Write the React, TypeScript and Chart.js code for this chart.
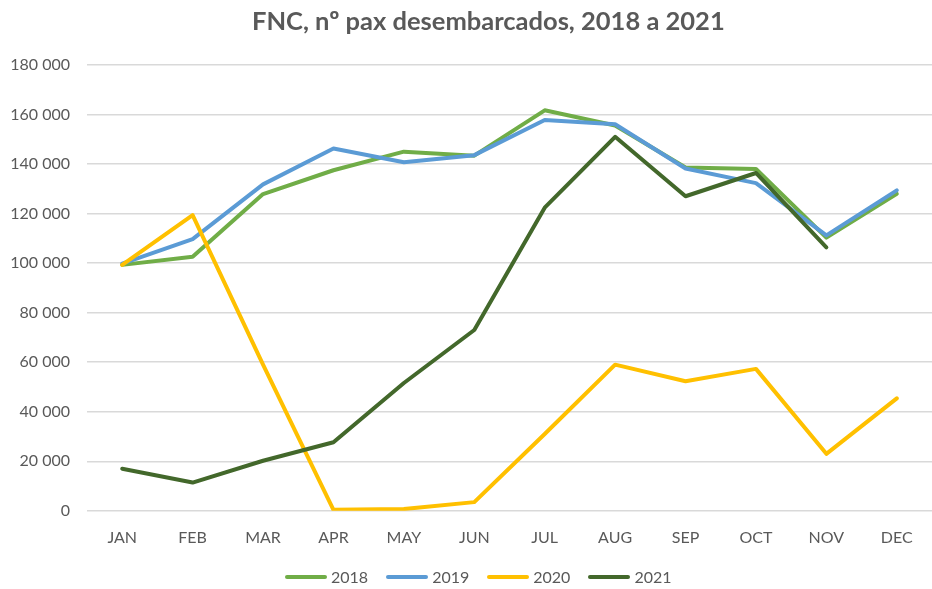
import React, { useEffect, useRef } from "react";
import { Chart, registerables } from "chart.js";

Chart.register(...registerables);

const months = ["JAN", "FEB", "MAR", "APR", "MAY", "JUN", "JUL", "AUG", "SEP", "OCT", "NOV", "DEC"];
const pax2018 = [99300, 102600, 127900, 137500, 145000, 143400, 161700, 155600, 138600, 138000, 110300, 128000];
const pax2019 = [99800, 109700, 131800, 146300, 140700, 143600, 157800, 156100, 138200, 132300, 111200, 129400];
const pax2020 = [99300, 119400, 59000, 400, 700, 3500, 31000, 59000, 52300, 57300, 23000, 45400];
const pax2021 = [17000, 11400, 20200, 27700, 51600, 73000, 122400, 151000, 127000, 136400, 106400, null];
const seriesNames = ["2018", "2019", "2020", "2021"];
const seriesColors = ["#70AD47", "#5B9BD5", "#FFC000", "#43682B"];
const titleText = "FNC, nº pax desembarcados, 2018 a 2021";

const fmt = (v: number) => String(v).replace(/\B(?=(\d{3})+(?!\d))/g, " ");

export default function App() {
  const ref = useRef<HTMLCanvasElement | null>(null);
  useEffect(() => {
    if (!ref.current) return;
    const all = [pax2018, pax2019, pax2020, pax2021];
    const chart = new Chart(ref.current, {
      type: "line",
      data: {
        labels: months,
        datasets: all.map((d, i) => ({
          label: seriesNames[i],
          data: d,
          borderColor: seriesColors[i],
          backgroundColor: seriesColors[i],
          borderWidth: 4,
          pointRadius: 0,
          pointHoverRadius: 0,
          tension: 0,
          fill: false,
          borderJoinStyle: "round" as const,
          borderCapStyle: "round" as const,
          order: 3 - i,
        })),
      },
      options: {
        responsive: false,
        animation: false,
        layout: { padding: { left: 0, right: 0, top: 65, bottom: 25 } },
        plugins: {
          legend: { display: false },
          tooltip: { enabled: false },
          title: { display: false },
        },
        scales: {
          x: {
            offset: true,
            grid: { display: false, drawTicks: false },
            border: { display: false },
            ticks: {
              color: "#595959",
              font: { family: "Lato", size: 16 },
              padding: 17,
              maxRotation: 0,
            },
          },
          y: {
            min: 0,
            max: 180000,
            afterFit: (scale: any) => {
              scale.width = 87;
            },
            grid: { color: "#D9D9D9", lineWidth: 1.5, drawTicks: false },
            border: { display: false },
            ticks: {
              stepSize: 20000,
              color: "#595959",
              font: { family: "Lato", size: 16 },
              padding: 17,
              callback: (v: any) => fmt(Number(v)),
            },
          },
        },
      },
    });
    return () => chart.destroy();
  }, []);

  return (
    <div style={{ position: "fixed", left: 0, top: 0, width: 932, height: 589, background: "#fff" }}>
      <canvas ref={ref} width={932} height={589} style={{ display: "block" }} />
      <div
        style={{
          position: "absolute",
          left: 252,
          top: 4,
          fontFamily: "Lato",
          fontWeight: "bold",
          fontSize: 25.5,
          lineHeight: "32px",
          color: "#595959",
          whiteSpace: "nowrap",
        }}
      >
        {titleText}
      </div>
      <div
        style={{
          position: "absolute",
          left: 285,
          top: 567,
          display: "flex",
          alignItems: "center",
          fontFamily: "Lato",
          fontSize: 16,
          color: "#595959",
          lineHeight: "20px",
        }}
      >
        {seriesNames.map((n, i) => (
          <div key={n} style={{ display: "flex", alignItems: "center", marginRight: 18 }}>
            <span
              style={{
                display: "inline-block",
                width: 42,
                height: 4,
                borderRadius: 2,
                background: seriesColors[i],
                marginRight: 4,
              }}
            />
            <span>{n}</span>
          </div>
        ))}
      </div>
    </div>
  );
}
